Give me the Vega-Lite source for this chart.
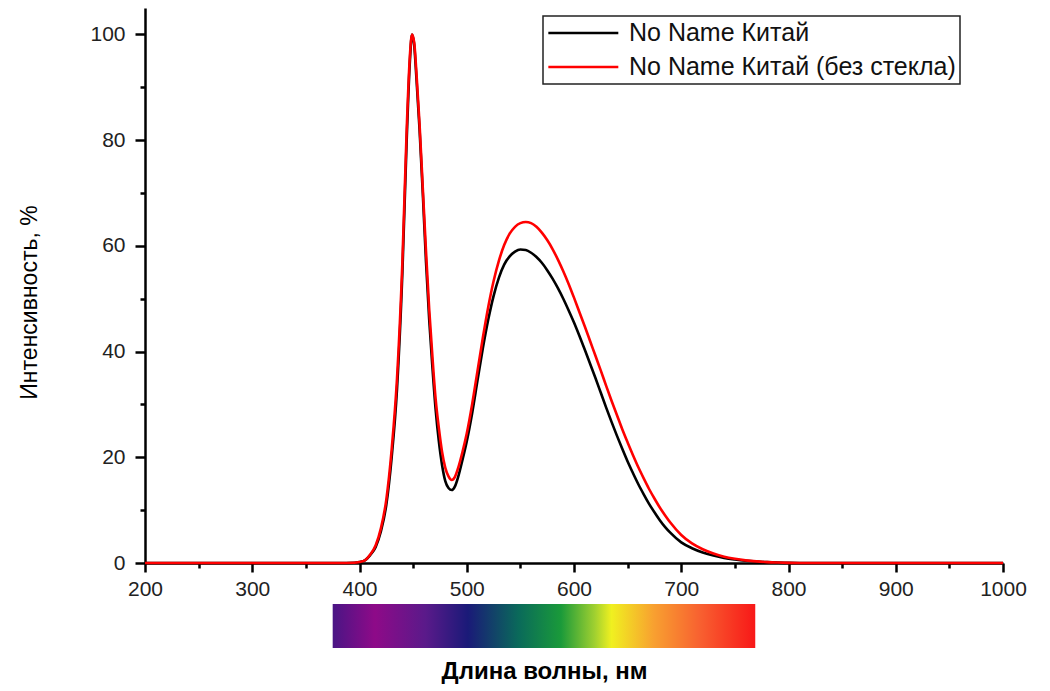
{
  "$schema": "https://vega.github.io/schema/vega-lite/v6.json",
  "background": "white",
  "padding": {"left": 18, "top": 8, "right": 5, "bottom": 3},
  "spacing": 5,
  "config": {
    "font": "Liberation Sans",
    "view": {"stroke": null},
    "legend": {"strokeWidth": 1.5},
    "axis": {
      "grid": false,
      "domainColor": "#000",
      "domainWidth": 2.5,
      "tickColor": "#000",
      "tickWidth": 2.5,
      "labelColor": "#222",
      "labelFontSize": 21,
      "titleFontSize": 23,
      "titleFontWeight": "normal",
      "titleColor": "#000"
    }
  },
  "resolve": {"scale": {"x": "independent"}},
  "vconcat": [
    {
      "width": 858,
      "height": 555,
      "data": {
        "values": [
          {"series": "No Name Китай", "nm": 200, "val": 0},
          {"series": "No Name Китай", "nm": 380, "val": 0},
          {"series": "No Name Китай", "nm": 395, "val": 0.05},
          {"series": "No Name Китай", "nm": 400, "val": 0.2},
          {"series": "No Name Китай", "nm": 405, "val": 0.5},
          {"series": "No Name Китай", "nm": 410, "val": 1.5},
          {"series": "No Name Китай", "nm": 415, "val": 3},
          {"series": "No Name Китай", "nm": 420, "val": 6},
          {"series": "No Name Китай", "nm": 425, "val": 11},
          {"series": "No Name Китай", "nm": 430, "val": 20},
          {"series": "No Name Китай", "nm": 435, "val": 33},
          {"series": "No Name Китай", "nm": 440, "val": 55},
          {"series": "No Name Китай", "nm": 444, "val": 80},
          {"series": "No Name Китай", "nm": 447, "val": 95},
          {"series": "No Name Китай", "nm": 449, "val": 100},
          {"series": "No Name Китай", "nm": 451, "val": 98},
          {"series": "No Name Китай", "nm": 453, "val": 92},
          {"series": "No Name Китай", "nm": 456, "val": 82},
          {"series": "No Name Китай", "nm": 459, "val": 70},
          {"series": "No Name Китай", "nm": 462, "val": 57},
          {"series": "No Name Китай", "nm": 465, "val": 46},
          {"series": "No Name Китай", "nm": 468, "val": 37},
          {"series": "No Name Китай", "nm": 471, "val": 29},
          {"series": "No Name Китай", "nm": 474, "val": 23},
          {"series": "No Name Китай", "nm": 477, "val": 18.5},
          {"series": "No Name Китай", "nm": 480, "val": 15.5},
          {"series": "No Name Китай", "nm": 483, "val": 14.2},
          {"series": "No Name Китай", "nm": 486, "val": 13.8},
          {"series": "No Name Китай", "nm": 489, "val": 14.5},
          {"series": "No Name Китай", "nm": 492, "val": 16.3},
          {"series": "No Name Китай", "nm": 496, "val": 19.5},
          {"series": "No Name Китай", "nm": 500, "val": 23},
          {"series": "No Name Китай", "nm": 505, "val": 28.3},
          {"series": "No Name Китай", "nm": 510, "val": 34.5},
          {"series": "No Name Китай", "nm": 515, "val": 40.6},
          {"series": "No Name Китай", "nm": 520, "val": 46},
          {"series": "No Name Китай", "nm": 525, "val": 50.5},
          {"series": "No Name Китай", "nm": 530, "val": 54},
          {"series": "No Name Китай", "nm": 535, "val": 56.5},
          {"series": "No Name Китай", "nm": 540, "val": 58},
          {"series": "No Name Китай", "nm": 545, "val": 58.9},
          {"series": "No Name Китай", "nm": 550, "val": 59.3},
          {"series": "No Name Китай", "nm": 555, "val": 59.2},
          {"series": "No Name Китай", "nm": 560, "val": 58.7},
          {"series": "No Name Китай", "nm": 565, "val": 57.9},
          {"series": "No Name Китай", "nm": 570, "val": 56.8},
          {"series": "No Name Китай", "nm": 575, "val": 55.4},
          {"series": "No Name Китай", "nm": 580, "val": 53.8},
          {"series": "No Name Китай", "nm": 585, "val": 52},
          {"series": "No Name Китай", "nm": 590, "val": 50},
          {"series": "No Name Китай", "nm": 595, "val": 47.8},
          {"series": "No Name Китай", "nm": 600, "val": 45.5},
          {"series": "No Name Китай", "nm": 605, "val": 43},
          {"series": "No Name Китай", "nm": 610, "val": 40.4},
          {"series": "No Name Китай", "nm": 615, "val": 37.7},
          {"series": "No Name Китай", "nm": 620, "val": 35},
          {"series": "No Name Китай", "nm": 625, "val": 32.2},
          {"series": "No Name Китай", "nm": 630, "val": 29.4},
          {"series": "No Name Китай", "nm": 635, "val": 26.7},
          {"series": "No Name Китай", "nm": 640, "val": 24.1},
          {"series": "No Name Китай", "nm": 645, "val": 21.6},
          {"series": "No Name Китай", "nm": 650, "val": 19.2},
          {"series": "No Name Китай", "nm": 655, "val": 17},
          {"series": "No Name Китай", "nm": 660, "val": 14.9},
          {"series": "No Name Китай", "nm": 665, "val": 13},
          {"series": "No Name Китай", "nm": 670, "val": 11.2},
          {"series": "No Name Китай", "nm": 675, "val": 9.6},
          {"series": "No Name Китай", "nm": 680, "val": 8.1},
          {"series": "No Name Китай", "nm": 685, "val": 6.8},
          {"series": "No Name Китай", "nm": 690, "val": 5.7},
          {"series": "No Name Китай", "nm": 700, "val": 3.9},
          {"series": "No Name Китай", "nm": 710, "val": 2.8},
          {"series": "No Name Китай", "nm": 720, "val": 2},
          {"series": "No Name Китай", "nm": 730, "val": 1.4},
          {"series": "No Name Китай", "nm": 740, "val": 0.95},
          {"series": "No Name Китай", "nm": 750, "val": 0.65},
          {"series": "No Name Китай", "nm": 760, "val": 0.42},
          {"series": "No Name Китай", "nm": 770, "val": 0.27},
          {"series": "No Name Китай", "nm": 780, "val": 0.16},
          {"series": "No Name Китай", "nm": 790, "val": 0.08},
          {"series": "No Name Китай", "nm": 800, "val": 0.02},
          {"series": "No Name Китай", "nm": 810, "val": 0},
          {"series": "No Name Китай", "nm": 1000, "val": 0},
          {"series": "No Name Китай (без стекла)", "nm": 200, "val": 0},
          {"series": "No Name Китай (без стекла)", "nm": 380, "val": 0},
          {"series": "No Name Китай (без стекла)", "nm": 395, "val": 0.05},
          {"series": "No Name Китай (без стекла)", "nm": 400, "val": 0.2},
          {"series": "No Name Китай (без стекла)", "nm": 405, "val": 0.5},
          {"series": "No Name Китай (без стекла)", "nm": 410, "val": 1.6},
          {"series": "No Name Китай (без стекла)", "nm": 415, "val": 3.3},
          {"series": "No Name Китай (без стекла)", "nm": 420, "val": 6.6},
          {"series": "No Name Китай (без стекла)", "nm": 425, "val": 12},
          {"series": "No Name Китай (без стекла)", "nm": 430, "val": 21.5},
          {"series": "No Name Китай (без стекла)", "nm": 435, "val": 35},
          {"series": "No Name Китай (без стекла)", "nm": 440, "val": 57},
          {"series": "No Name Китай (без стекла)", "nm": 444, "val": 82},
          {"series": "No Name Китай (без стекла)", "nm": 447, "val": 96},
          {"series": "No Name Китай (без стекла)", "nm": 449, "val": 100},
          {"series": "No Name Китай (без стекла)", "nm": 451, "val": 98.5},
          {"series": "No Name Китай (без стекла)", "nm": 453, "val": 93},
          {"series": "No Name Китай (без стекла)", "nm": 456, "val": 83},
          {"series": "No Name Китай (без стекла)", "nm": 459, "val": 71},
          {"series": "No Name Китай (без стекла)", "nm": 462, "val": 59},
          {"series": "No Name Китай (без стекла)", "nm": 465, "val": 48},
          {"series": "No Name Китай (без стекла)", "nm": 468, "val": 39},
          {"series": "No Name Китай (без стекла)", "nm": 471, "val": 31},
          {"series": "No Name Китай (без стекла)", "nm": 474, "val": 25.5},
          {"series": "No Name Китай (без стекла)", "nm": 477, "val": 21},
          {"series": "No Name Китай (без стекла)", "nm": 480, "val": 18},
          {"series": "No Name Китай (без стекла)", "nm": 483, "val": 16.4},
          {"series": "No Name Китай (без стекла)", "nm": 486, "val": 15.7},
          {"series": "No Name Китай (без стекла)", "nm": 489, "val": 16.3},
          {"series": "No Name Китай (без стекла)", "nm": 492, "val": 18},
          {"series": "No Name Китай (без стекла)", "nm": 496, "val": 21},
          {"series": "No Name Китай (без стекла)", "nm": 500, "val": 24.5},
          {"series": "No Name Китай (без стекла)", "nm": 505, "val": 30},
          {"series": "No Name Китай (без стекла)", "nm": 510, "val": 36.3},
          {"series": "No Name Китай (без стекла)", "nm": 515, "val": 42.6},
          {"series": "No Name Китай (без стекла)", "nm": 520, "val": 48.4},
          {"series": "No Name Китай (без стекла)", "nm": 525, "val": 53.3},
          {"series": "No Name Китай (без стекла)", "nm": 530, "val": 57.2},
          {"series": "No Name Китай (без стекла)", "nm": 535, "val": 60.2},
          {"series": "No Name Китай (без стекла)", "nm": 540, "val": 62.3},
          {"series": "No Name Китай (без стекла)", "nm": 545, "val": 63.6},
          {"series": "No Name Китай (без стекла)", "nm": 550, "val": 64.3},
          {"series": "No Name Китай (без стекла)", "nm": 555, "val": 64.5},
          {"series": "No Name Китай (без стекла)", "nm": 560, "val": 64.3},
          {"series": "No Name Китай (без стекла)", "nm": 565, "val": 63.6},
          {"series": "No Name Китай (без стекла)", "nm": 570, "val": 62.5},
          {"series": "No Name Китай (без стекла)", "nm": 575, "val": 61.1},
          {"series": "No Name Китай (без стекла)", "nm": 580, "val": 59.4},
          {"series": "No Name Китай (без стекла)", "nm": 585, "val": 57.4},
          {"series": "No Name Китай (без стекла)", "nm": 590, "val": 55.2},
          {"series": "No Name Китай (без стекла)", "nm": 595, "val": 52.8},
          {"series": "No Name Китай (без стекла)", "nm": 600, "val": 50.2},
          {"series": "No Name Китай (без стекла)", "nm": 605, "val": 47.5},
          {"series": "No Name Китай (без стекла)", "nm": 610, "val": 44.8},
          {"series": "No Name Китай (без стекла)", "nm": 615, "val": 42},
          {"series": "No Name Китай (без стекла)", "nm": 620, "val": 39.2},
          {"series": "No Name Китай (без стекла)", "nm": 625, "val": 36.4},
          {"series": "No Name Китай (без стекла)", "nm": 630, "val": 33.5},
          {"series": "No Name Китай (без стекла)", "nm": 635, "val": 30.7},
          {"series": "No Name Китай (без стекла)", "nm": 640, "val": 28},
          {"series": "No Name Китай (без стекла)", "nm": 645, "val": 25.3},
          {"series": "No Name Китай (без стекла)", "nm": 650, "val": 22.8},
          {"series": "No Name Китай (без стекла)", "nm": 655, "val": 20.4},
          {"series": "No Name Китай (без стекла)", "nm": 660, "val": 18.1},
          {"series": "No Name Китай (без стекла)", "nm": 665, "val": 16},
          {"series": "No Name Китай (без стекла)", "nm": 670, "val": 14},
          {"series": "No Name Китай (без стекла)", "nm": 675, "val": 12.2},
          {"series": "No Name Китай (без стекла)", "nm": 680, "val": 10.5},
          {"series": "No Name Китай (без стекла)", "nm": 685, "val": 9},
          {"series": "No Name Китай (без стекла)", "nm": 690, "val": 7.6},
          {"series": "No Name Китай (без стекла)", "nm": 700, "val": 5.3},
          {"series": "No Name Китай (без стекла)", "nm": 710, "val": 3.7},
          {"series": "No Name Китай (без стекла)", "nm": 720, "val": 2.6},
          {"series": "No Name Китай (без стекла)", "nm": 730, "val": 1.8},
          {"series": "No Name Китай (без стекла)", "nm": 740, "val": 1.2},
          {"series": "No Name Китай (без стекла)", "nm": 750, "val": 0.8},
          {"series": "No Name Китай (без стекла)", "nm": 760, "val": 0.5},
          {"series": "No Name Китай (без стекла)", "nm": 770, "val": 0.3},
          {"series": "No Name Китай (без стекла)", "nm": 780, "val": 0.17},
          {"series": "No Name Китай (без стекла)", "nm": 790, "val": 0.09},
          {"series": "No Name Китай (без стекла)", "nm": 800, "val": 0.03},
          {"series": "No Name Китай (без стекла)", "nm": 810, "val": 0},
          {"series": "No Name Китай (без стекла)", "nm": 1000, "val": 0}
        ]
      },
      "mark": {"type": "line", "strokeWidth": 2.6, "interpolate": "monotone"},
      "encoding": {
        "x": {
          "field": "nm",
          "type": "quantitative",
          "scale": {"domain": [200, 1000], "nice": false, "zero": false},
          "axis": {
            "title": null,
            "format": "d",
            "values": [200, 250, 300, 350, 400, 450, 500, 550, 600, 650, 700, 750, 800, 850, 900, 950, 1000],
            "labelExpr": "datum.value % 100 === 0 ? datum.label : ''",
            "tickSize": {"condition": {"test": "datum.value % 100 !== 0", "value": 5}, "value": 9},
            "labelPadding": 6,
            "labelFlush": false,
            "labelOverlap": false
          }
        },
        "y": {
          "field": "val",
          "type": "quantitative",
          "scale": {"domain": [0, 105], "nice": false},
          "axis": {
            "title": "Интенсивность, %",
            "values": [0, 10, 20, 30, 40, 50, 60, 70, 80, 90, 100],
            "labelExpr": "datum.value % 20 === 0 ? datum.label : ''",
            "tickSize": {"condition": {"test": "datum.value % 20 !== 0", "value": 5}, "value": 10},
            "labelPadding": 10,
            "titlePadding": 48,
            "titleY": 294,
            "labelOverlap": false
          }
        },
        "color": {
          "field": "series",
          "type": "nominal",
          "sort": null,
          "scale": {"domain": ["No Name Китай", "No Name Китай (без стекла)"], "range": ["#000000", "#ff0000"]},
          "legend": {
            "orient": "none",
            "legendX": 398,
            "legendY": 8,
            "title": null,
            "symbolType": "M-1,0H5",
            "symbolSize": 544,
            "symbolStrokeWidth": 2.5,
            "labelFontSize": 25,
            "labelColor": "#111",
            "labelOffset": 56,
            "labelExpr": "datum.label + '\u00a0\u00a0\u00a0\u00a0\u00a0\u00a0\u00a0'",
            "rowPadding": 8,
            "padding": 4,
            "strokeColor": "#222",
            "fillColor": "white",
            "labelLimit": 700
          }
        }
      }
    },
    {
      "width": 858,
      "height": 44,
      "data": {"values": [{"start": 375, "end": 769}]},
      "mark": {
        "type": "rect",
        "fill": {
          "gradient": "linear",
          "x1": 0, "y1": 0, "x2": 1, "y2": 0,
          "stops": [
            {"offset": 0, "color": "#4a1585"},
            {"offset": 0.1, "color": "#8e0a88"},
            {"offset": 0.22, "color": "#5a1a8a"},
            {"offset": 0.32, "color": "#1a1a78"},
            {"offset": 0.44, "color": "#0a6a5a"},
            {"offset": 0.54, "color": "#1a9a3a"},
            {"offset": 0.62, "color": "#a0d030"},
            {"offset": 0.66, "color": "#f0f020"},
            {"offset": 0.76, "color": "#f8a030"},
            {"offset": 0.87, "color": "#f86030"},
            {"offset": 1, "color": "#f81818"}
          ]
        }
      },
      "encoding": {
        "x": {
          "field": "start",
          "type": "quantitative",
          "scale": {"domain": [200, 1000], "nice": false, "zero": false},
          "axis": {
            "title": "Длина волны, нм",
            "labels": false,
            "ticks": false,
            "domain": false,
            "titleX": 399,
            "titlePadding": 11,
            "titleFontSize": 24,
            "titleFontWeight": "bold"
          }
        },
        "x2": {"field": "end"}
      }
    }
  ]
}
